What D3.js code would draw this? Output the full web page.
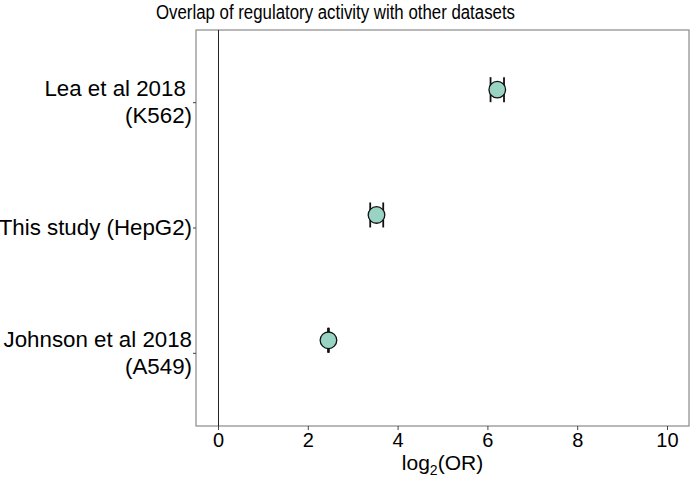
<!DOCTYPE html>
<html>
<head>
<meta charset="utf-8">
<script src="https://cdn.jsdelivr.net/npm/d3@7"></script>
<style>
  body { margin: 0; background: #fff; }
  text { font-family: "Liberation Sans", Arial, sans-serif; }
</style>
</head>
<body>
<script>
// datasets, bottom to top
var datasets = ['Johnson et al 2018\n(A549)', 'This study (HepG2)', 'Lea et al 2018 \n(K562)'];
var logOR = [2.46, 3.53, 6.22];
var ciLow = [2.45, 3.39, 6.07];
var ciHigh = [2.47, 3.68, 6.37];
var xTicks = [0, 2, 4, 6, 8, 10];

var width = 690,
    height = 480;
var panel = { left: 196, right: 689, top: 30, bottom: 426 };

var svg = d3.select('body').append('svg').attr('width', width).attr('height', height);

var x = d3.scaleLinear().domain([-0.49, 10.49]).range([panel.left, panel.right]);
var y = d3.scaleLinear().domain([0.416, 3.576]).range([panel.bottom, panel.top]);

var rows = datasets.map(function (d, i) {
    return { name: d, pos: i + 1, or: logOR[i], lo: ciLow[i], hi: ciHigh[i] };
});

// panel border
svg.append('rect')
    .attr('x', panel.left).attr('y', panel.top)
    .attr('width', panel.right - panel.left).attr('height', panel.bottom - panel.top)
    .attr('fill', 'none').attr('stroke', '#7f7f7f').attr('stroke-width', 1.1);

// zero line
svg.append('line')
    .attr('x1', Math.round(x(0)) + 0.5).attr('x2', Math.round(x(0)) + 0.5)
    .attr('y1', panel.top).attr('y2', panel.bottom)
    .attr('stroke', '#222').attr('stroke-width', 1);

// x axis
var xAxis = svg.append('g')
    .attr('transform', 'translate(0,' + panel.bottom + ')')
    .call(d3.axisBottom(x).tickValues(xTicks).tickSize(4).tickPadding(3));
xAxis.select('.domain').remove();
xAxis.selectAll('line').attr('stroke', '#444');
xAxis.selectAll('text').attr('font-size', 20).attr('fill', '#000')
    .style('font-family', '"Liberation Sans", Arial, sans-serif');

// y axis (ticks + multi-line labels)
var yAxis = svg.append('g')
    .attr('transform', 'translate(' + panel.left + ',0)')
    .call(d3.axisLeft(y).tickValues([1, 2, 3]).tickSize(3).tickFormat(''));
yAxis.select('.domain').remove();
yAxis.selectAll('line').attr('stroke', '#444');

var labels = svg.append('g');
rows.forEach(function (d) {
    var lines = d.name.split('\n');
    var lh = 27;
    var y0 = y(d.pos) - (lines.length - 1) * lh / 2 + 7.8;
    var t = labels.append('text')
        .attr('text-anchor', 'end')
        .attr('font-size', 22.3)
        .style('white-space', 'pre');
    lines.forEach(function (l, k) {
        t.append('tspan').attr('x', 192).attr('y', y0 + k * lh).text(l);
    });
});

// error bars (nudged up a little from the ticks)
var nudge = 0.1;
var bars = svg.append('g').selectAll('g').data(rows).enter().append('g');
bars.append('line')
    .attr('x1', function (d) { return x(d.lo); })
    .attr('x2', function (d) { return x(d.hi); })
    .attr('y1', function (d) { return y(d.pos + nudge); })
    .attr('y2', function (d) { return y(d.pos + nudge); })
    .attr('stroke', '#111').attr('stroke-width', 1.8);
['lo', 'hi'].forEach(function (k) {
    bars.append('line')
        .attr('x1', function (d) { return x(d[k]); })
        .attr('x2', function (d) { return x(d[k]); })
        .attr('y1', function (d) { return y(d.pos + nudge) - 12.5; })
        .attr('y2', function (d) { return y(d.pos + nudge) + 12.5; })
        .attr('stroke', '#111').attr('stroke-width', 1.8);
});

// points
svg.append('g').selectAll('circle').data(rows).enter().append('circle')
    .attr('cx', function (d) { return x(d.or); })
    .attr('cy', function (d) { return y(d.pos + nudge); })
    .attr('r', 8.3)
    .attr('fill', '#98d3c4')
    .attr('stroke', '#111').attr('stroke-width', 1.3);

// titles
svg.append('text')
    .attr('x', 335.5).attr('y', 18.5)
    .attr('text-anchor', 'middle')
    .attr('font-size', 20)
    .attr('textLength', 359)
    .attr('lengthAdjust', 'spacingAndGlyphs')
    .text('Overlap of regulatory activity with other datasets');

var xt = svg.append('text')
    .attr('x', x(5)).attr('y', 470)
    .attr('text-anchor', 'middle')
    .attr('font-size', 21);
xt.append('tspan').text('log');
xt.append('tspan').attr('font-size', 14).attr('dy', 5).text('2');
xt.append('tspan').attr('dy', -5).text('(OR)');
</script>
</body>
</html>
